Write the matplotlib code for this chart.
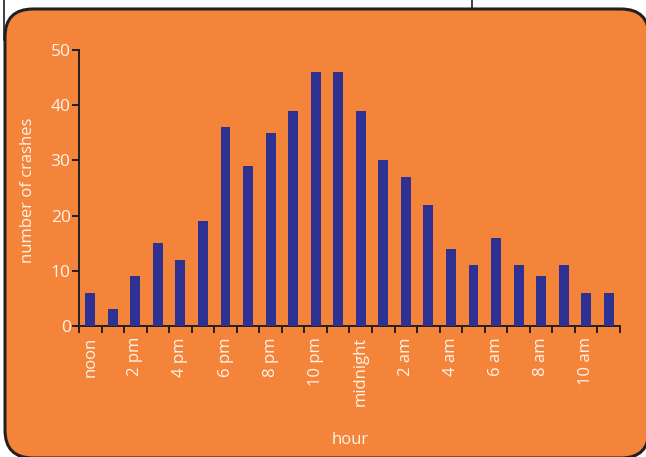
import numpy as np
import matplotlib.pyplot as plt
from matplotlib.patches import FancyBboxPatch

# crashes by hour, starting at noon
hours = list(range(24))
crashes = [6, 3, 9, 15, 12, 19, 36, 29, 35, 39, 46, 46,
           39, 30, 27, 22, 14, 11, 16, 11, 9, 11, 6, 6]
hour_labels = ["noon", "2 pm", "4 pm", "6 pm", "8 pm", "10 pm",
               "midnight", "2 am", "4 am", "6 am", "8 am", "10 am"]

orange = "#F5843B"
navy = "#2E3192"
dark = "#231F20"
txt = "#FFF4EA"

plt.rcParams['font.family'] = ['Open Sans', 'DejaVu Sans']

fig = plt.figure(figsize=(6.46, 4.57), dpi=100)
fig.patch.set_facecolor("white")

# background panel in pixel coordinates
bg = fig.add_axes([0, 0, 1, 1])
bg.set_xlim(0, 646)
bg.set_ylim(457, 0)
bg.axis("off")
box = FancyBboxPatch((5, 9), 644, 449, boxstyle="round,pad=0,rounding_size=28",
                     facecolor=orange, edgecolor=dark, linewidth=2.2)
bg.add_patch(box)
bg.plot([3.5, 3.5], [0, 40], color=dark, lw=1.2)
bg.plot([472, 472], [0, 9], color=dark, lw=1.2)

ax = fig.add_axes([79 / 646, 1 - 326 / 457, 541 / 646, 276 / 457])
ax.patch.set_alpha(0)
ax.bar(hours, crashes, width=0.44, color=navy, zorder=3)
ax.set_xlim(-0.5, 23.5)
ax.set_ylim(0, 50)

for s in ["top", "right"]:
    ax.spines[s].set_visible(False)
for s in ["left", "bottom"]:
    ax.spines[s].set_color(dark)
    ax.spines[s].set_linewidth(1.4)

ax.set_yticks([0, 10, 20, 30, 40, 50])
ax.tick_params(axis="y", direction="out", length=5, width=1.4, color=dark,
               labelcolor=txt, labelsize=12.5, pad=1)

ax.set_xticks(np.arange(-0.5, 24, 1))
ax.set_xticklabels([])
ax.tick_params(axis="x", which="major", direction="out", length=5, width=1.4, color=dark)
ax.set_xticks(hours[::2], minor=True)
ax.set_xticklabels(hour_labels, minor=True, rotation=90, va="top")
ax.tick_params(axis="x", which="minor", length=0, labelcolor=txt, labelsize=12, pad=8)

fig.text(28 / 646, 1 - 190 / 457, "number of crashes", rotation=90, color=txt,
         fontsize=12, ha="center", va="center")
fig.text(350 / 646, 1 - 440 / 457, "hour", color=txt, fontsize=12,
         ha="center", va="center")

fig.savefig("out.png", dpi=100)
